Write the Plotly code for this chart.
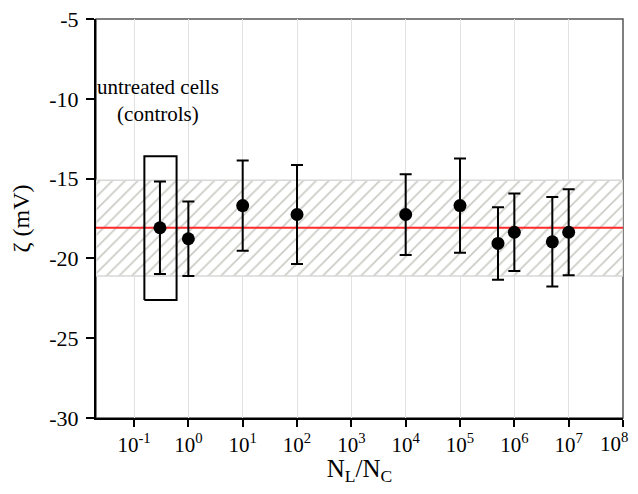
import plotly.graph_objects as go

x_vals = [0.3, 1, 10, 100, 1e4, 1e5, 5e5, 1e6, 5e6, 1e7]
y_vals = [-18.08, -18.77, -16.69, -17.25, -17.25, -16.69, -19.06, -18.36, -18.96, -18.36]
y_err = [2.9, 2.33, 2.83, 3.1, 2.53, 2.95, 2.27, 2.43, 2.8, 2.69]
mean_val = -18.08
band_low, band_high = -21.1, -15.1
box_x = [0.155, 0.607]
box_y = [-22.6, -13.6]
x_tick_exp = list(range(-1, 9))
x_tick_text = [f"10<sup>{e}</sup>" for e in x_tick_exp]
y_ticks = [-30, -25, -20, -15, -10, -5]

x_min, x_max = 10 ** -1.7, 1e8
font_fam = "Liberation Serif"

fig = go.Figure()

# hatched band
fig.add_trace(go.Scatter(
    x=[x_min, x_max, x_max, x_min, x_min],
    y=[band_low, band_low, band_high, band_high, band_low],
    mode="lines", fill="toself",
    line=dict(color="#d8d8d8", width=1.5),
    fillcolor="white",
    fillpattern=dict(shape="/", fgcolor="#96968a", bgcolor="white", size=9, solidity=0.18),
    hoverinfo="skip", showlegend=False))

# mean line
fig.add_trace(go.Scatter(
    x=[x_min, x_max], y=[mean_val, mean_val], mode="lines",
    line=dict(color="#ff2a2a", width=2), showlegend=False))

# control box
fig.add_trace(go.Scatter(
    x=[box_x[0], box_x[1], box_x[1], box_x[0], box_x[0]],
    y=[box_y[0], box_y[0], box_y[1], box_y[1], box_y[0]],
    mode="lines", line=dict(color="black", width=2), showlegend=False))

# data
fig.add_trace(go.Scatter(
    x=x_vals, y=y_vals, mode="markers",
    marker=dict(color="black", size=13, symbol="circle"),
    error_y=dict(type="data", array=y_err, visible=True, color="black", thickness=2, width=6),
    showlegend=False))

fig.add_annotation(x=-0.55, y=-10.1, xref="x", yref="y", text="untreated cells<br>(controls)",
                   showarrow=False, font=dict(family=font_fam, size=21, color="black"),
                   align="center", yanchor="middle")

# last tick label (at the right edge of the page) drawn as annotation so it is not hidden
fig.add_annotation(x=1, y=0, xref="paper", yref="paper", text=x_tick_text[-1],
                   showarrow=False, xanchor="right", yanchor="top", xshift=7, yshift=-9,
                   font=dict(family=font_fam, size=21, color="black"))

fig.update_layout(
    width=622, height=478,
    margin=dict(l=88, r=7, t=11, b=68),
    plot_bgcolor="white", paper_bgcolor="white",
    font=dict(family=font_fam, size=21, color="black"),
    shapes=[dict(type="rect", xref="paper", yref="paper", x0=0, x1=1, y0=0, y1=1,
                 line=dict(color="#555555", width=1.5), layer="below")],
)

fig.update_xaxes(
    type="log", range=[-1.7, 8],
    tickmode="array",
    tickvals=[10 ** e for e in x_tick_exp],
    ticktext=x_tick_text[:-1] + [""],
    ticks="outside", ticklen=7, tickwidth=1.5, tickcolor="black",
    showline=True, linecolor="black", linewidth=2,
    showgrid=True, gridcolor="#e2e2e2", gridwidth=1,
    tickfont=dict(family=font_fam, size=21, color="black"),
    title=dict(text="N<sub>L</sub>/N<sub>C</sub>", font=dict(family=font_fam, size=25, color="black"), standoff=2),
    zeroline=False, automargin=False,
)
fig.update_yaxes(
    range=[-30, -5], tickmode="array", tickvals=y_ticks, ticktext=[str(v) for v in y_ticks],
    ticks="outside", ticklen=8, tickwidth=1.5, tickcolor="black",
    showline=True, linecolor="black", linewidth=2,
    showgrid=False, zeroline=False,
    tickfont=dict(family=font_fam, size=22, color="black"),
    ticklabelstandoff=3, ticklabeloverflow="allow",
    title=dict(text="ζ (mV)", font=dict(family=font_fam, size=24, color="black"), standoff=16),
    automargin=False,
)

fig.write_html("out.html")
